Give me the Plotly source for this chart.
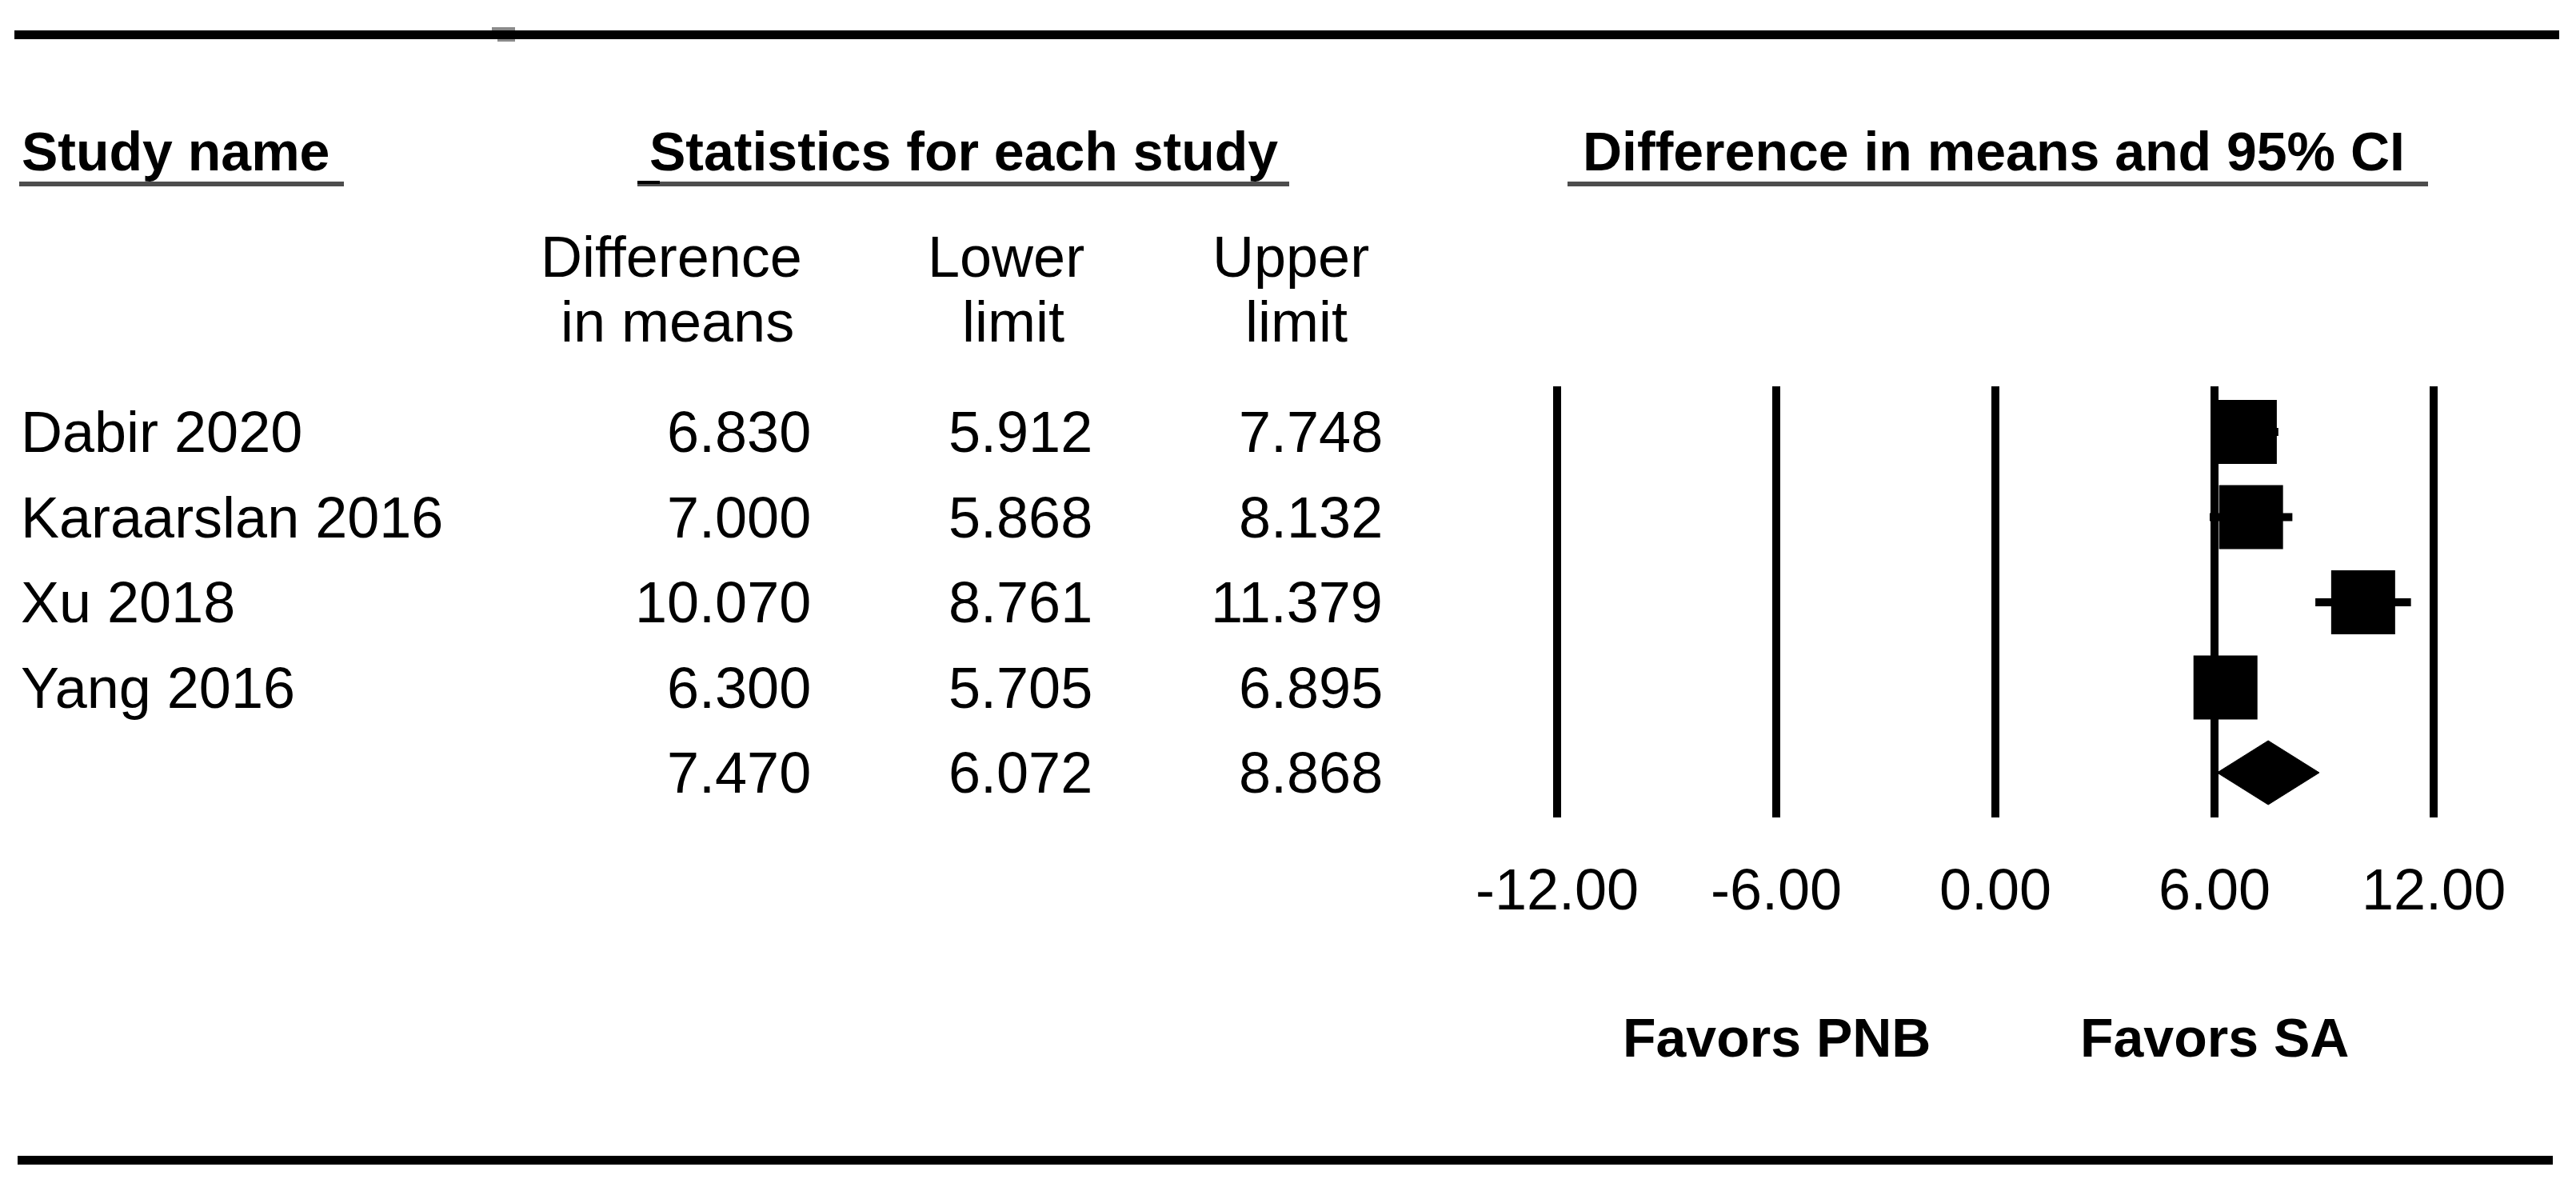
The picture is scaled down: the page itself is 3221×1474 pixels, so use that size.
import plotly.graph_objects as go

# ---------------- data ----------------
studies = ["Dabir 2020", "Karaarslan 2016", "Xu 2018", "Yang 2016"]
diff_means = [6.830, 7.000, 10.070, 6.300]
lower_limit = [5.912, 5.868, 8.761, 5.705]
upper_limit = [7.748, 8.132, 11.379, 6.895]
pooled_diff = 7.470
pooled_lower = 6.072
pooled_upper = 8.868
tick_vals = [-12, -6, 0, 6, 12]
tick_text = ["-12.00", "-6.00", "0.00", "6.00", "12.00"]
favors_left = "Favors PNB"
favors_right = "Favors SA"

# ---------------- geometry ----------------
W, H = 3221, 1474
PPU = 274 / 6.0          # pixels per unit on the effect axis
X_ZERO_PX = 2495         # pixel position of 0
ROW0_PX = 540            # pixel (from top) of first row
ROW_STEP = 106.5         # pixel distance between rows

FONT = "Liberation Sans, Arial, sans-serif"
BOLD_SIZE = 68
REG_SIZE = 72


def px(x):
    return x / W


def py(y):
    return 1 - y / H


n = len(studies)
rows = [-i for i in range(n)]
pooled_row = -n

fig = go.Figure()

# CI whiskers
wx, wy = [], []
for lo, up, r in zip(lower_limit, upper_limit, rows):
    wx += [lo, up, None]
    wy += [r, r, None]
fig.add_trace(go.Scatter(x=wx, y=wy, mode="lines",
                         line=dict(color="black", width=10),
                         hoverinfo="skip", showlegend=False))

# point estimates (squares)
fig.add_trace(go.Scatter(x=diff_means, y=rows, mode="markers",
                         marker=dict(symbol="square", size=80, color="black",
                                     line=dict(width=0)),
                         showlegend=False))

# pooled diamond
dh = 40 / ROW_STEP
fig.add_trace(go.Scatter(
    x=[pooled_lower, pooled_diff, pooled_upper, pooled_diff, pooled_lower],
    y=[pooled_row, pooled_row + dh, pooled_row, pooled_row - dh, pooled_row],
    mode="lines", fill="toself", fillcolor="black",
    line=dict(color="black", width=1), showlegend=False))

shapes = []
# vertical reference lines at ticks
for tv in tick_vals:
    shapes.append(dict(type="line", xref="x", yref="y", x0=tv, x1=tv,
                       y0=(ROW0_PX - 483) / ROW_STEP,
                       y1=-(1022 - ROW0_PX) / ROW_STEP,
                       line=dict(color="black", width=10), layer="below"))

# top and bottom rules
shapes.append(dict(type="line", xref="paper", yref="paper",
                   x0=px(18), x1=px(3200), y0=py(43.5), y1=py(43.5),
                   line=dict(color="black", width=11)))
shapes.append(dict(type="line", xref="paper", yref="paper",
                   x0=px(22), x1=px(3192), y0=py(1450.5), y1=py(1450.5),
                   line=dict(color="black", width=11)))
# small grey marks on top rule
shapes.append(dict(type="rect", xref="paper", yref="paper",
                   x0=px(615), x1=px(644), y0=py(38), y1=py(34),
                   fillcolor="#8a8a8a", line=dict(width=0)))
shapes.append(dict(type="rect", xref="paper", yref="paper",
                   x0=px(622), x1=px(644), y0=py(52), y1=py(49),
                   fillcolor="#8a8a8a", line=dict(width=0)))

# header underlines
for x0, x1 in [(24, 430), (797, 1612), (1960, 3036)]:
    shapes.append(dict(type="line", xref="paper", yref="paper",
                       x0=px(x0), x1=px(x1), y0=py(230), y1=py(230),
                       line=dict(color="#4d4d4d", width=6)))
shapes.append(dict(type="line", xref="paper", yref="paper",
                   x0=px(797), x1=px(825), y0=py(228), y1=py(228),
                   line=dict(color="black", width=4)))

ann = []


def txt(text, x, y, xanchor="left", size=REG_SIZE, bold=False,
        xref="paper", yref="paper"):
    ann.append(dict(text=("<b>%s</b>" % text) if bold else text,
                    x=x, y=y, xref=xref, yref=yref,
                    xanchor=xanchor, yanchor="middle", showarrow=False,
                    font=dict(family=FONT, size=size, color="black")))


# main headers
txt("Study name", px(25), py(189), "left", BOLD_SIZE, True)
txt("Statistics for each study", px(1205), py(189), "center", BOLD_SIZE, True)
txt("Difference in means and 95% CI", px(1977), py(189), "left", BOLD_SIZE, True)

# column headers
col_head1 = ["Difference", "Lower", "Upper"]
col_head2 = ["in means", "limit", "limit"]
for t, xc in zip(col_head1, [839, 1258, 1614]):
    txt(t, px(xc), py(321), "center")
for t, xc in zip(col_head2, [847, 1267, 1621]):
    txt(t, px(xc), py(402), "center")

# table rows
col_right = [1016, 1368, 1731]
for name, d, lo, up, r in zip(studies, diff_means, lower_limit, upper_limit, rows):
    txt(name, px(24), r, "left", yref="y")
    for v, xr in zip([d, lo, up], col_right):
        txt("%.3f" % v, px(xr), r, "right", yref="y")
for v, xr in zip([pooled_diff, pooled_lower, pooled_upper], col_right):
    txt("%.3f" % v, px(xr), pooled_row, "right", yref="y")

# axis tick labels
for tv, tt in zip(tick_vals, tick_text):
    txt(tt, tv, py(1112), "center", xref="x")

# favours labels
txt(favors_left, tick_vals[1], py(1297), "center", BOLD_SIZE, True, xref="x")
txt(favors_right, tick_vals[3], py(1297), "center", BOLD_SIZE, True, xref="x")

fig.update_layout(
    width=W, height=H, autosize=False,
    margin=dict(l=0, r=0, t=0, b=0, pad=0),
    paper_bgcolor="white", plot_bgcolor="white",
    showlegend=False,
    xaxis=dict(range=[-X_ZERO_PX / PPU, (W - X_ZERO_PX) / PPU], visible=False,
               fixedrange=True, domain=[0, 1]),
    yaxis=dict(range=[ROW0_PX / ROW_STEP - H / ROW_STEP, ROW0_PX / ROW_STEP],
               visible=False, fixedrange=True, domain=[0, 1]),
    shapes=shapes,
    annotations=ann,
)

fig.write_html("out.html", config={"displayModeBar": False},
               post_script="document.body.style.margin='0';")
